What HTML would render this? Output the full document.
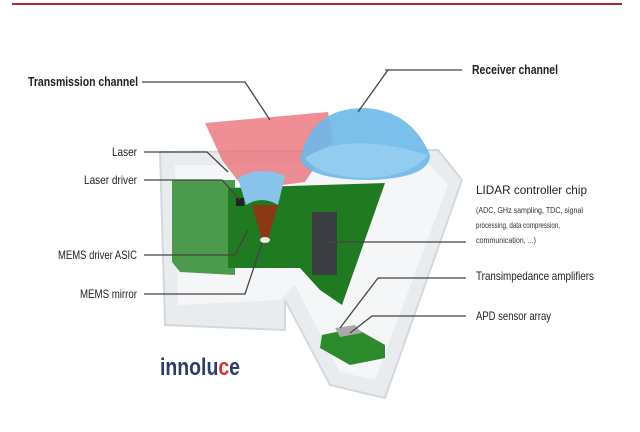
<!DOCTYPE html>
<html><head><meta charset="utf-8"><style>
body{margin:0;background:#fff;}
svg{display:block;font-family:"Liberation Sans",sans-serif;}
</style></head><body>
<svg width="640" height="432" viewBox="0 0 640 432" xmlns="http://www.w3.org/2000/svg">
<rect width="640" height="432" fill="#fff"/>
<line x1="12" y1="4" x2="622" y2="4" stroke="#a52a2a" stroke-width="2"/>
<!-- outer housing -->
<polygon points="160,152 438,150 462,180 385,398 330,385 285,300 285,330 165,325" fill="#e9ecef" stroke="#d3d8dc" stroke-width="2"/>
<polygon points="175,165 430,165 448,185 375,380 340,372 295,285 280,300 178,305" fill="#f4f6f7"/>
<!-- green boards -->
<polygon points="172,180 235,180 235,275 180,272 172,262" fill="#4c9a4c"/>
<polygon points="228,188 385,183 342,305 320,290 300,268 228,268" fill="#1f7a22"/>
<rect x="312" y="212" width="25" height="63" fill="#3a3e42"/>
<!-- transmission red -->
<polygon points="205,123 328,112 333,140 305,182 245,190 222,160" fill="#e96a72" opacity="0.75"/>
<!-- receiver dome -->
<path d="M300,160 Q310,110 360,108 Q410,108 430,155 Q430,178 370,180 Q310,180 300,160Z" fill="#6cb9e8" opacity="0.9"/>
<path d="M305,158 Q345,130 428,155 Q410,176 370,178 Q320,178 305,158Z" fill="#92cdf0"/>
<!-- small lens -->
<path d="M238,178 Q260,165 285,176 L278,205 Q262,195 246,205Z" fill="#88c4ea"/>
<polygon points="252,205 278,205 268,240 262,240" fill="#8a3a12"/>
<ellipse cx="265" cy="240" rx="5" ry="3" fill="#eee"/>
<rect x="236" y="198" width="8" height="8" fill="#222"/>
<!-- APD -->
<polygon points="322,335 355,328 385,345 385,358 350,365 320,348" fill="#2a8a2c"/>
<polygon points="335,328 355,325 362,333 340,337" fill="#aaa"/>
<!-- leader lines -->
<g stroke="#444" stroke-width="1.3" fill="none">
<polyline points="142,82 245,82 270,120"/>
<polyline points="385,70 462,70"/>
<line x1="388" y1="70" x2="358" y2="112"/>
<polyline points="144,152 207,152 228,172"/>
<polyline points="144,180 222,180 240,200"/>
<polyline points="144,255 235,255 248,230"/>
<polyline points="144,294 245,294 262,243"/>
<line x1="328" y1="242" x2="466" y2="242"/>
<polyline points="340,328 378,278 466,278"/>
<polyline points="350,333 372,316 466,316"/>
</g>
<g fill="#222" font-size="12" lengthAdjust="spacingAndGlyphs">
<text x="28" y="86" font-weight="bold" font-size="12.5" textLength="110" lengthAdjust="spacingAndGlyphs">Transmission channel</text>
<text x="472" y="74" font-weight="bold" font-size="12.5" textLength="86" lengthAdjust="spacingAndGlyphs">Receiver channel</text>
<text x="112" y="156" textLength="25" lengthAdjust="spacingAndGlyphs">Laser</text>
<text x="84" y="184" textLength="53" lengthAdjust="spacingAndGlyphs">Laser driver</text>
<text x="58" y="259" textLength="79" lengthAdjust="spacingAndGlyphs">MEMS driver ASIC</text>
<text x="80" y="298" textLength="57" lengthAdjust="spacingAndGlyphs">MEMS mirror</text>
<text x="476" y="194" textLength="111" lengthAdjust="spacingAndGlyphs">LIDAR controller chip</text>
<text x="476" y="280" textLength="118" lengthAdjust="spacingAndGlyphs">Transimpedance amplifiers</text>
<text x="476" y="320" textLength="75" lengthAdjust="spacingAndGlyphs">APD sensor array</text>
<g font-size="8.5" fill="#333">
<text x="476" y="213" textLength="107" lengthAdjust="spacingAndGlyphs">(ADC, GHz sampling, TDC, signal</text>
<text x="476" y="228" textLength="84" lengthAdjust="spacingAndGlyphs">processing, data compression,</text>
<text x="476" y="243" textLength="60" lengthAdjust="spacingAndGlyphs">communication, ...)</text>
</g>
</g>
<text x="160" y="375" font-size="24" font-weight="bold" fill="#2f3c6b" textLength="80" lengthAdjust="spacingAndGlyphs">innolu<tspan fill="#d8322e">c</tspan>e</text>
</svg>
</body></html>
